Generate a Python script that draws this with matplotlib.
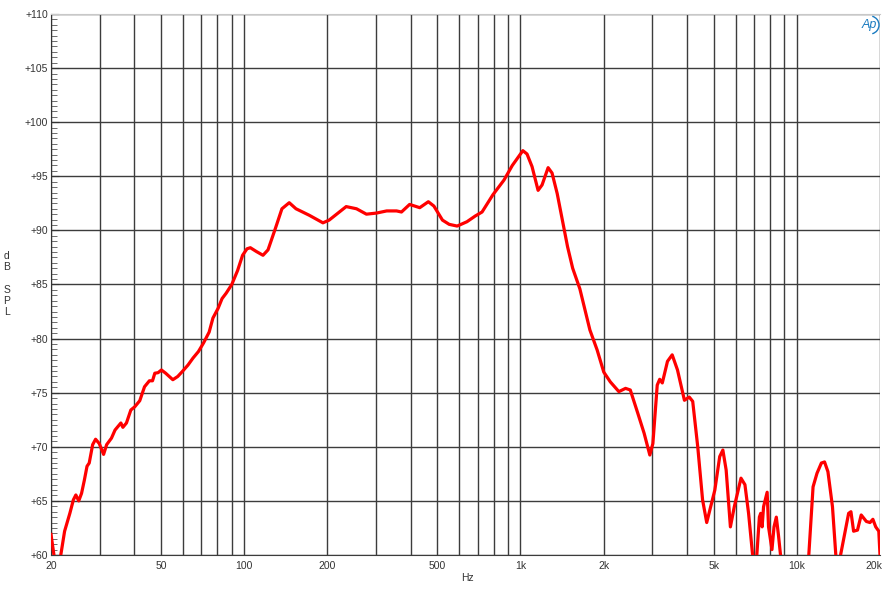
import matplotlib
matplotlib.use("Agg")
import matplotlib.pyplot as plt
from matplotlib.patches import Arc
from matplotlib.transforms import ScaledTranslation

plt.rcParams['font.family'] = ['Liberation Sans', 'DejaVu Sans']

freq_hz = [20, 20.5, 21, 21.7, 22.4, 23.4, 24.1, 24.6, 25.2, 25.8, 26.4, 27.0, 27.5, 28.3, 29.0,
           29.9, 31.0, 31.8, 33.1, 34.1, 35.8, 36.4, 37.5, 38.9, 40.2, 41.9, 43.6, 45.4, 46.6,
           47.5, 48.8, 50.2, 52.0, 55.2, 57.5, 59.7, 62.6, 65.3, 68.3, 71.3, 74.7, 77.1, 80.5,
           83.2, 86.1, 90.2, 94.7, 98.7, 102.4, 105.3, 110.7, 117, 122, 129.8, 137, 145.6, 154,
           172, 192.8, 203, 234, 255, 277, 301, 328, 356, 371, 397, 432, 464, 486, 522, 552,
           590, 640, 686, 726, 795, 872, 934, 1020, 1056, 1101, 1158, 1197, 1259, 1301, 1358,
           1418, 1480, 1545, 1640, 1783, 1894, 2002, 2114, 2270, 2400, 2497, 2658, 2802, 2938,
           3014, 3125, 3190, 3260, 3404, 3540, 3700, 3920, 4080, 4200, 4380, 4560, 4720, 4880,
           5050, 5260, 5400, 5550, 5750, 5940, 6280, 6490, 6690, 6910, 7100, 7320, 7400, 7490,
           7580, 7810, 7900, 8130, 8270, 8430, 8580, 8730, 9500, 10500, 11050, 11450, 11830,
           12270, 12600, 12960, 13460, 13840, 14100, 14400, 14760, 15400, 15700, 16050, 16580,
           17100, 17850, 18400, 18850, 19300, 19800, 20000]
spl_db = [61.9, 60.0, 58.5, 60.0, 62.2, 63.85, 65.1, 65.55, 65.0, 65.7, 66.9, 68.2, 68.5, 70.2, 70.7,
          70.3, 69.3, 70.2, 70.8, 71.55, 72.2, 71.8, 72.2, 73.4, 73.7, 74.26, 75.55, 76.1, 76.1,
          76.8, 76.85, 77.1, 76.8, 76.2, 76.5, 76.95, 77.55, 78.2, 78.8, 79.6, 80.6, 81.9, 82.8,
          83.7, 84.2, 85.0, 86.3, 87.7, 88.3, 88.4, 88.05, 87.7, 88.2, 90.2, 92.0, 92.56, 92.0,
          91.4, 90.7, 90.95, 92.2, 92.0, 91.5, 91.6, 91.8, 91.8, 91.7, 92.4, 92.1, 92.65, 92.25,
          90.95, 90.56, 90.4, 90.8, 91.33, 91.7, 93.3, 94.66, 96.0, 97.37, 97.06, 95.9, 93.7,
          94.2, 95.8, 95.3, 93.4, 90.96, 88.5, 86.5, 84.6, 80.8, 78.95, 76.9, 76.0, 75.1, 75.4,
          75.25, 73.1, 71.25, 69.24, 70.3, 75.7, 76.24, 75.9, 77.9, 78.5, 77.1, 74.3, 74.6,
          74.2, 70.0, 65.1, 63.0, 64.46, 66.0, 69.1, 69.7, 67.85, 62.6, 64.46, 67.1, 66.5,
          63.85, 60.15, 58.5, 63.5, 63.85, 62.6, 64.46, 65.8, 62.6, 60.5, 62.6, 63.5, 61.85,
          60.0, 56.0, 56.0, 60.0, 66.3, 67.55, 68.5, 68.6, 67.7, 64.46, 60.0, 58.5, 60.0, 61.4,
          63.85, 64.0, 62.2, 62.3, 63.7, 63.1, 63.0, 63.3, 62.6, 62.2, 60.0]

x_major = [20, 50, 100, 200, 500, 1000, 2000, 5000, 10000, 20000]
x_major_labels = ['20', '50', '100', '200', '500', '1k', '2k', '5k', '10k', '20k']
x_minor = [30, 40, 60, 70, 80, 90, 300, 400, 600, 700, 800, 900,
           3000, 4000, 6000, 7000, 8000, 9000]
y_major = [60, 65, 70, 75, 80, 85, 90, 95, 100, 105, 110]
y_major_labels = ['+60', '+65', '+70', '+75', '+80', '+85', '+90', '+95', '+100', '+105', '+110']

fig = plt.figure(figsize=(8.84, 6.0), dpi=100)
ax = fig.add_axes([51 / 884, 45 / 600, 829 / 884, 541 / 600])
ax.set_xscale('log')
ax.set_xlim(20, 20000)
ax.set_ylim(60, 110)

ax.plot(freq_hz, spl_db, color='#ff0000', lw=2.3, solid_joinstyle='round', zorder=3, clip_on=True)

ax.set_xticks(x_major)
ax.set_xticklabels(x_major_labels)
ax.set_xticks(x_minor, minor=True)
ax.set_xticklabels([], minor=True)
ax.set_yticks(y_major)
ax.set_yticklabels(y_major_labels)
ax.set_yticks([v / 2 for v in range(120, 221)], minor=True)

ax.grid(True, which='both', axis='x', color='#3c3c3c', lw=1.0)
ax.grid(True, which='major', axis='y', color='#3c3c3c', lw=1.0)
ax.set_axisbelow(True)

ax.tick_params(axis='x', which='both', length=0, labelsize=7.5, pad=4, colors='#333333')
ax.tick_params(axis='y', which='major', direction='in', length=6, width=0.8, labelsize=7.5,
               pad=2, colors='#333333')
ax.tick_params(axis='y', which='minor', direction='in', length=4, width=0.6, colors='#555555')

# nudge the last x label inward so it stays inside the figure
last_lbl = ax.get_xticklabels()[-1]
last_lbl.set_transform(last_lbl.get_transform() + ScaledTranslation(-6 / 100, 0, fig.dpi_scale_trans))

for s in ['top', 'right']:
    ax.spines[s].set_color('#c8c8c8')
ax.spines['right'].set_visible(False)
ax.spines['left'].set_color('#333333')
ax.spines['bottom'].set_color('#3c3c3c')

fig.text(467 / 884, 1 - 578 / 600, 'Hz', ha='center', va='center', fontsize=7.5, color='#333333')
fig.text(7 / 884, 1 - 284 / 600, 'd\nB\n\nS\nP\nL', ha='center', va='center', fontsize=7.5,
         color='#333333', linespacing=1.15)

# AP logo
fig.text(869 / 884, 1 - 25 / 600, 'Ap', ha='center', va='center', fontsize=9,
         fontstyle='italic', color='#1a7bc0')
logo = Arc((870 / 884, 1 - 25 / 600), 18 / 884, 18 / 600, theta1=-80, theta2=80,
           transform=fig.transFigure, color='#1a7bc0', lw=1.0)
fig.add_artist(logo)

fig.savefig('out.png', dpi=100)
